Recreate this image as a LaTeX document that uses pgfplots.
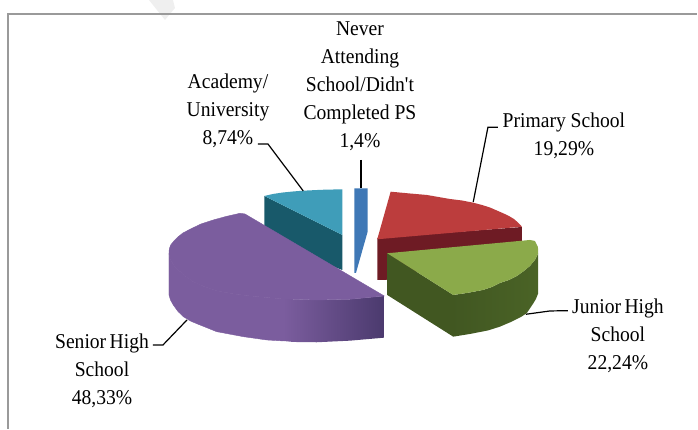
\documentclass[border=0pt]{standalone}
\usepackage{fontspec}
\newfontfamily\labfont{Liberation Serif}
\usepackage{pgfplots}
\pgfplotsset{compat=1.18}
\definecolor{frameline}{HTML}{9A9A9A}
\definecolor{wm}{HTML}{EFEFEF}
\definecolor{purpletop}{HTML}{7B5D9E}
\definecolor{purpledark}{HTML}{4B3A6E}
\definecolor{tealtop}{HTML}{3F9DB9}
\definecolor{tealside}{HTML}{18596A}
\definecolor{bluetop}{HTML}{3F78B6}
\definecolor{redtop}{HTML}{BC3D3D}
\definecolor{redside}{HTML}{6E1B24}
\definecolor{greentop}{HTML}{8BAA4A}
\definecolor{greenside}{HTML}{4A6326}
\newcommand{\lab}[3]{\node[align=center,font=\labfont\fontsize{15.8pt}{21pt}\selectfont,inner sep=0pt,xscale=.93,transform shape] at (axis cs:#1,#2) {#3};}
\begin{document}
\begin{tikzpicture}
\begin{axis}[
  width=523.5pt,height=321.75pt,scale only axis,
  xmin=0,xmax=698,ymin=0,ymax=429,y dir=reverse,
  hide axis,clip=false]
% keeps the full canvas inside the bounding box
\addplot[draw=none] coordinates {(0,0)(698,429)};
% faint diagonal stripe and chart frame
\addplot[fill=wm,draw=none] coordinates {(149,0)(173,0)(175,8)(165,20)} -- cycle;
\addplot[frameline,line width=0.9pt] coordinates {(8,429)(8,14)(697.5,14)};
% Academy / University
\addplot[fill=tealside,draw=none] coordinates {(264.3,196)(342.3,235)(342.3,270)(264.3,240)} -- cycle;
\addplot[fill=tealtop,draw=none] coordinates {(264.3,196)(273,194)(283,192.5)(293,191.5)(303.3,190.7)(322,189.8)(342.3,189.3)(342.3,235)} -- cycle;
% Never attending
\addplot[fill=bluetop,draw=none] coordinates {(354.3,188.3)(367.7,188.3)(367.7,231.7)(356,273)(354.3,273)} -- cycle;
% Primary school
\addplot[fill=redside,draw=none] coordinates {(377.3,238)(522,227)(522,255)(400,275)(386,280)(377.3,280)} -- cycle;
\addplot[fill=redtop,draw=none] coordinates {(390.7,191.7)(410,193.5)(427,195)(450,199)(462,200.5)(473.3,202.7)(482,205)(490,207.5)(503.3,213.3)(509,216)(514,219)(518,222.5)(522,226.7)(377.3,239.3)} -- cycle;
% Junior high school
\addplot[fill=greenside!88!black,draw=none] coordinates {(387.3,253.3)(453.3,295)(453.3,336.7)(387.3,295)} -- cycle;
\addplot[left color=greenside!88!black,right color=greenside,draw=none] coordinates {(453.3,295)(467,293)(483,290)(492,287)(500,283)(509,280)(517,276)(524,271)(530,266)(535,260)(538.3,253.3)(538.3,293.3)(536,299)(533,304)(527,313)(521,317)(511,322)(500,326.7)(488,330.5)(470,334)(453.3,336.7)} -- cycle;
\addplot[fill=greentop,draw=none] coordinates {(387.3,253.3)(530,240)(535,241)(538,247)(538.3,253.3)(535,260)(530,266)(524,271)(517,276)(509,280)(500,283)(492,287)(483,290)(467,293)(453.3,295)} -- cycle;
% Senior high school
\addplot[fill=purpletop,draw=purpletop,line width=0.3pt] coordinates {(169,253.3)(169.6,257)(170.7,260)(174,265.5)(178.3,270)(185,276)(193.3,281.7)(204,286.5)(216.7,290.7)(232,293.7)(250,296)(283.3,299)(283.3,341)(266.7,340)(243.3,336.7)(216.7,331.7)(200,325)(191,321.3)(183.3,316.7)(178,311.5)(173.3,305)(170.5,300)(169,295)} -- cycle;
\addplot[left color=purpletop,right color=purpledark,draw=none] coordinates {(283.3,299)(316.7,300)(350,299.3)(384.3,296)(384.3,337.7)(350,340.7)(316.7,342.3)(293.3,342)(283.3,341)} -- cycle;
\addplot[fill=purpletop,draw=purpletop,line width=0.3pt] coordinates {(240,213.3)(245,214)(384.3,296)(350,299.3)(316.7,300)(283.3,299)(250,296)(232,293.7)(216.7,290.7)(204,286.5)(193.3,281.7)(185,276)(178.3,270)(174,265.5)(170.7,260)(169.6,257)(169,253.3)(169.3,249)(170.7,245)(174,241)(178.3,236.7)(183,233)(190,229.3)(201,224)(213.3,220)(226,216.5)} -- cycle;
% Leader lines
\addplot[black,line width=0.9pt] coordinates {(258,144)(268,144)(303.3,191)};
\addplot[black,line width=0.9pt] coordinates {(361,160)(361,188)};
\addplot[black,line width=0.9pt] coordinates {(498,127.3)(488,127.3)(473.3,202)};
\addplot[black,line width=0.9pt] coordinates {(526,314.3)(550,311)(568,310.7)};
\addplot[black,line width=0.9pt] coordinates {(153,345)(163,345)(187,320)};
% Labels
\lab{360}{86.5}{Never\\Attending\\School/Didn't\\Completed PS\\1,4\%}
\lab{228}{111}{Academy/\\University\\8,74\%}
\lab{564}{135.5}{Primary School\\19,29\%}
\lab{618}{336}{Junior\hspace{-1.2pt} High\\School\\22,24\%}
\lab{102}{371}{Senior\hspace{-1.2pt} High\\School\\48,33\%}
\end{axis}
\end{tikzpicture}
\end{document}
